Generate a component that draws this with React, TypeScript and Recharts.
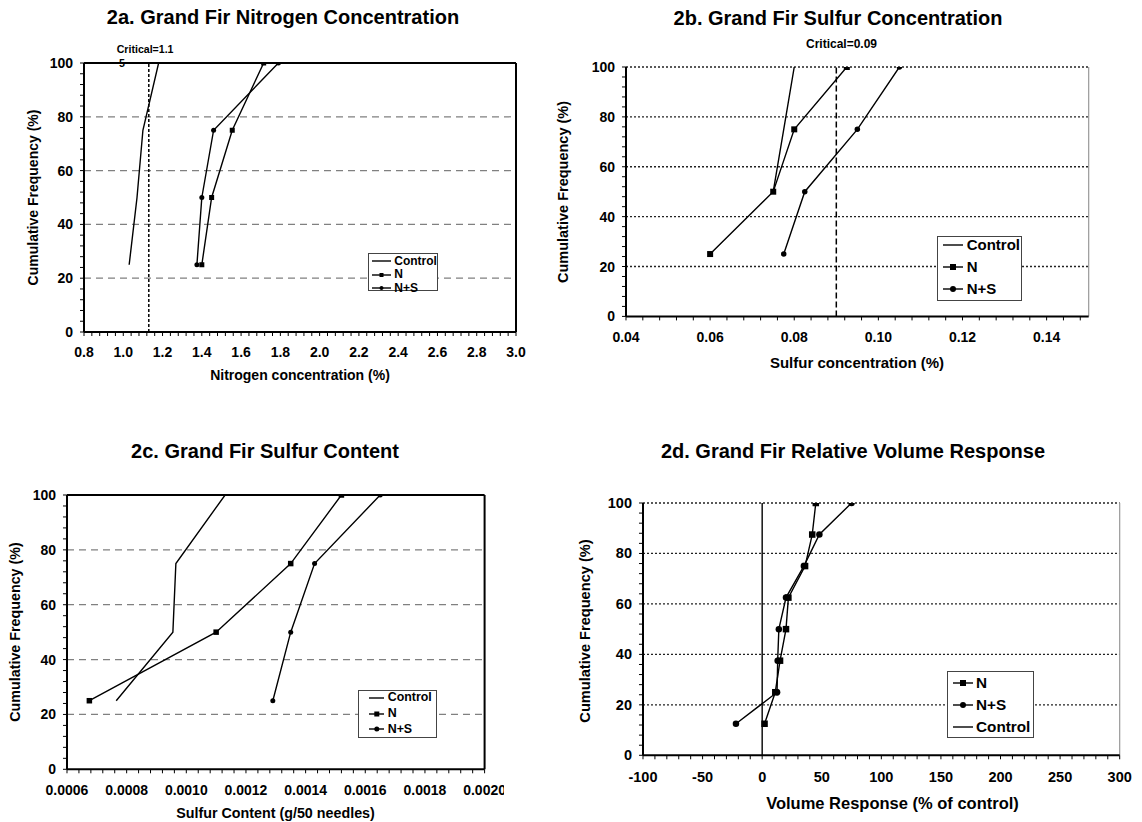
import React from 'react';
import { LineChart, Line, XAxis, YAxis, ReferenceLine, Legend } from 'recharts';

const FONT = '"Liberation Sans", Arial, Helvetica, sans-serif';

// ---------- data ----------
const freq4 = [25, 50, 75, 100];
const freq8 = [12.5, 25, 37.5, 50, 62.5, 75, 87.5, 100];

// 2a Nitrogen concentration (%)
const nitroControl = [1.03, 1.07, 1.1, 1.18];
const nitroN = [1.4, 1.45, 1.555, 1.715];
const nitroNS = [1.375, 1.4, 1.46, 1.79];
const nitroCritical = 1.13;
const nitroTicks = [0.8, 1.0, 1.2, 1.4, 1.6, 1.8, 2.0, 2.2, 2.4, 2.6, 2.8, 3.0];

// 2b Sulfur concentration (%)
const sulfControlFreq = [50, 75, 100];
const sulfControl = [0.075, 0.0775, 0.08];
const sulfN = [0.06, 0.075, 0.08, 0.0925];
const sulfNS = [0.0775, 0.0825, 0.095, 0.105];
const sulfCritical = 0.09;
const sulfTicks = [0.04, 0.06, 0.08, 0.1, 0.12, 0.14];

// 2c Sulfur content (g/50 needles)
const contControl = [0.000765, 0.000955, 0.000965, 0.00113];
const contN = [0.000675, 0.0011, 0.00135, 0.00152];
const contNS = [0.00129, 0.00135, 0.00143, 0.00165];
const contTicks = [0.0006, 0.0008, 0.001, 0.0012, 0.0014, 0.0016, 0.0018, 0.002];

// 2d Relative volume response (% of control)
const volN = [2, 11, 15, 20, 22, 36, 42, 45];
const volNS = [-22, 12.5, 13, 14, 20, 35, 48, 75];
const volControl = [0, 0];
const volControlFreq = [0, 100];
const volTicks = [-100, -50, 0, 50, 100, 150, 200, 250, 300];

const freqTicks = [0, 20, 40, 60, 80, 100];

// ---------- helpers ----------
const zip = (xs: number[], ys: number[]) => xs.map((x, i) => ({ x, y: ys[i] }));

function subdivide(majors: number[], parts: number, end: number) {
  const step = (majors[1] - majors[0]) / parts;
  const start = majors[0];
  const n = Math.floor((end - start) / step + 1e-6);
  const out: number[] = [];
  for (let i = 0; i <= n; i++) out.push(+(start + i * step).toPrecision(12));
  return out;
}

const isMajor = (v: number, majors: number[]) => {
  const tol = Math.abs(majors[1] - majors[0]) * 1e-4;
  return majors.some((m) => Math.abs(m - v) < tol);
};

type LegItem = { label: string; kind: 'line' | 'square' | 'circle' };

function LegendBox(props: {
  items: LegItem[]; w: number; h: number; firstY: number; gap: number;
  sampleX: number; sampleW: number; textX: number; fs: number; m: number;
}) {
  const { items, w, h, firstY, gap, sampleX, sampleW, textX, fs, m } = props;
  return (
    <div style={{ position: 'relative', width: w, height: h, border: '1px solid #444', background: '#fff', boxSizing: 'border-box', fontFamily: FONT, fontWeight: 'bold', fontSize: fs, color: '#000' }}>
      {items.map((it, i) => {
        const cy = firstY + i * gap;
        return (
          <React.Fragment key={i}>
            <svg style={{ position: 'absolute', left: sampleX, top: cy - 5 }} width={sampleW} height={10}>
              <line x1={0} y1={5} x2={sampleW} y2={5} stroke="#000" strokeWidth={1.4} />
              {it.kind === 'square' && <rect x={sampleW / 2 - m / 2} y={5 - m / 2} width={m} height={m} fill="#000" />}
              {it.kind === 'circle' && <circle cx={sampleW / 2} cy={5} r={m / 2} fill="#000" />}
            </svg>
            <div style={{ position: 'absolute', left: textX, top: cy - fs * 0.6, lineHeight: `${fs * 1.2}px`, whiteSpace: 'nowrap' }}>{it.label}</div>
          </React.Fragment>
        );
      })}
    </div>
  );
}

type Series = { name: string; data: { x: number; y: number }[]; dot: 'none' | 'square' | 'circle'; size: number };

type PanelProps = {
  plot: { x: number; y: number; w: number; h: number };
  xDomain: [number, number];
  xMajors: number[];
  xParts: number;
  xDigits: number;
  xDy: number;
  tickFs: number;
  grid: 'dashed' | 'dotted';
  critical?: { x: number; dash: string };
  series: Series[];
  legend: { box: { x: number; y: number }; props: any };
};

function Panel(p: PanelProps) {
  const L = p.plot.x - 70;
  const T = p.plot.y - 40;
  const W = p.plot.w + 90;
  const H = p.plot.h + 100;
  const xAll = subdivide(p.xMajors, p.xParts, p.xDomain[1]);
  const yAll = subdivide(freqTicks, 5, 100);
  const tickStyle = { fontFamily: FONT, fontWeight: 'bold' as const, fontSize: p.tickFs, fill: '#000' };

  const xTick = (t: any) => {
    const v = t.payload.value;
    if (!isMajor(v, p.xMajors)) return <g />;
    return <text x={t.x} y={t.y + p.xDy} textAnchor="middle" style={tickStyle}>{v.toFixed(p.xDigits)}</text>;
  };
  const yTick = (t: any) => {
    const v = t.payload.value;
    if (!isMajor(v, freqTicks)) return <g />;
    return <text x={t.x - 5} y={t.y + 5} textAnchor="end" style={tickStyle}>{v}</text>;
  };

  const gridVals = p.grid === 'dashed' ? [20, 40, 60, 80] : [20, 40, 60, 80, 100];

  return (
    <div style={{ position: 'absolute', left: L, top: T }}>
      <LineChart width={W} height={H} margin={{ top: 40, right: 20, bottom: 30, left: 20 }}>
        <XAxis type="number" dataKey="x" domain={p.xDomain} ticks={xAll} interval={0} allowDataOverflow height={30}
          tickSize={4} tickLine={{ stroke: '#000', strokeWidth: 1 }} axisLine={{ stroke: '#000', strokeWidth: 2 }} tick={xTick} />
        <YAxis type="number" domain={[0, 100]} ticks={yAll} interval={0} allowDataOverflow width={50}
          tickSize={4} tickLine={{ stroke: '#000', strokeWidth: 1 }} axisLine={{ stroke: '#000', strokeWidth: 2 }} tick={yTick} />
        {gridVals.map((g) => (
          <ReferenceLine key={'g' + g} y={g} stroke={p.grid === 'dashed' ? '#808080' : '#222'} strokeWidth={p.grid === 'dashed' ? 1.2 : 1.3}
            strokeDasharray={p.grid === 'dashed' ? '7 5' : '2 2'} />
        ))}
        {p.grid === 'dashed' ? (
          <ReferenceLine y={100} stroke="#000" strokeWidth={2} />
        ) : null}
        <ReferenceLine x={p.xDomain[1]} stroke={p.grid === 'dashed' ? '#000' : '#999'} strokeWidth={p.grid === 'dashed' ? 2 : 1.2} />
        {p.critical ? (
          <ReferenceLine x={p.critical.x} stroke="#000" strokeWidth={1.5} strokeDasharray={p.critical.dash} />
        ) : null}
        {p.series.map((s) => (
          <Line key={s.name} name={s.name} data={s.data} dataKey="y" type="linear" stroke="#000" strokeWidth={1.4}
            isAnimationActive={false} legendType="none"
            dot={s.dot === 'none' ? false : (d: any) =>
              s.dot === 'square'
                ? <rect key={`${s.name}-${d.index}`} x={d.cx - s.size / 2} y={d.cy - s.size / 2} width={s.size} height={s.size} fill="#000" />
                : <circle key={`${s.name}-${d.index}`} cx={d.cx} cy={d.cy} r={s.size / 2} fill="#000" />}
            activeDot={false} />
        ))}
        <Legend layout="vertical" align="center" verticalAlign="middle"
          wrapperStyle={{ left: p.legend.box.x - L, top: p.legend.box.y - T, width: p.legend.props.w, height: p.legend.props.h }}
          content={() => <LegendBox {...p.legend.props} />} />
      </LineChart>
    </div>
  );
}

const std: LegItem[] = [
  { label: 'Control', kind: 'line' },
  { label: 'N', kind: 'square' },
  { label: 'N+S', kind: 'circle' },
];
const volItems: LegItem[] = [
  { label: 'N', kind: 'square' },
  { label: 'N+S', kind: 'circle' },
  { label: 'Control', kind: 'line' },
];

function Texts() {
  const t = (x: number, y: number, s: string, fs: number, anchor: 'start' | 'middle' = 'middle') => (
    <text x={x} y={y} textAnchor={anchor} fontFamily={FONT} fontWeight="bold" fontSize={fs} fill="#000">{s}</text>
  );
  const v = (cx: number, cy: number, s: string, fs: number) => (
    <text x={cx + fs * 0.36} y={cy} transform={`rotate(-90 ${cx + fs * 0.36} ${cy})`} textAnchor="middle" fontFamily={FONT} fontWeight="bold" fontSize={fs} fill="#000">{s}</text>
  );
  return (
    <svg width={1142} height={822} style={{ position: 'absolute', left: 0, top: 0 }}>
      {t(283, 23.5, '2a. Grand Fir Nitrogen Concentration', 20)}
      {t(838, 25, '2b. Grand Fir Sulfur Concentration', 20)}
      {t(265, 458, '2c. Grand Fir Sulfur Content', 20)}
      {t(853, 458, '2d. Grand Fir Relative Volume Response', 20)}
      {t(300, 380, 'Nitrogen concentration (%)', 14)}
      {t(857, 368, 'Sulfur concentration (%)', 15)}
      {t(275.5, 818, 'Sulfur Content (g/50 needles)', 14.3)}
      {t(892.5, 809, 'Volume Response (% of control)', 16.5)}
      {v(33, 197.5, 'Cumulative Frequency (%)', 14)}
      {v(563, 192, 'Cumulative Frequency (%)', 14.5)}
      {v(15, 632, 'Cumulative Frequency (%)', 14.3)}
      {v(585, 631, 'Cumulative Frequency (%)', 14.6)}
      {t(116.7, 53.3, 'Critical=1.1', 10.6, 'start')}
      {t(119, 67.3, '5', 10.6, 'start')}
      {t(806, 48.3, 'Critical=0.09', 12, 'start')}
    </svg>
  );
}

export default function App() {
  return (
    <div style={{ position: 'absolute', left: 0, top: 0, width: 1142, height: 822, background: '#fff', overflow: 'hidden' }}>
      <Texts />
      <Panel
        plot={{ x: 84, y: 63, w: 432, h: 269 }}
        xDomain={[0.8, 3.0]} xMajors={nitroTicks} xParts={5} xDigits={1} xDy={19} tickFs={14}
        grid="dashed" critical={{ x: nitroCritical, dash: '3 2' }}
        series={[
          { name: 'Control', data: zip(nitroControl, freq4), dot: 'none', size: 0 },
          { name: 'N', data: zip(nitroN, freq4), dot: 'square', size: 5 },
          { name: 'N+S', data: zip(nitroNS, freq4), dot: 'circle', size: 5 },
        ]}
        legend={{ box: { x: 368, y: 253 }, props: { items: std, w: 70, h: 38, firstY: 7, gap: 13.6, sampleX: 2.7, sampleW: 19, textX: 25.3, fs: 12, m: 4 } }}
      />
      <Panel
        plot={{ x: 626, y: 67.3, w: 462.7, h: 249.4 }}
        xDomain={[0.04, 0.15]} xMajors={sulfTicks} xParts={5} xDigits={2} xDy={20} tickFs={14}
        grid="dotted" critical={{ x: sulfCritical, dash: '6 3' }}
        series={[
          { name: 'Control', data: zip(sulfControl, sulfControlFreq), dot: 'none', size: 0 },
          { name: 'N', data: zip(sulfN, freq4), dot: 'square', size: 6 },
          { name: 'N+S', data: zip(sulfNS, freq4), dot: 'circle', size: 5.5 },
        ]}
        legend={{ box: { x: 936.7, y: 235.7 }, props: { items: std, w: 85, h: 65.3, firstY: 8.3, gap: 22, sampleX: 5, sampleW: 20, textX: 29, fs: 15, m: 6 } }}
      />
      <Panel
        plot={{ x: 66.7, y: 495, w: 417.6, h: 274.3 }}
        xDomain={[0.0006, 0.002]} xMajors={contTicks} xParts={5} xDigits={4} xDy={19.7} tickFs={14}
        grid="dashed"
        series={[
          { name: 'Control', data: zip(contControl, freq4), dot: 'none', size: 0 },
          { name: 'N', data: zip(contN, freq4), dot: 'square', size: 5.5 },
          { name: 'N+S', data: zip(contNS, freq4), dot: 'circle', size: 5 },
        ]}
        legend={{ box: { x: 358.3, y: 690 }, props: { items: std, w: 79, h: 48.3, firstY: 6.7, gap: 15.8, sampleX: 9.4, sampleW: 15.6, textX: 28.4, fs: 12.4, m: 5 } }}
      />
      <Panel
        plot={{ x: 643.3, y: 502.7, w: 476.7, h: 252.3 }}
        xDomain={[-100, 300]} xMajors={volTicks} xParts={5} xDigits={0} xDy={21} tickFs={14.5}
        grid="dotted"
        series={[
          { name: 'Control', data: zip(volControl, volControlFreq), dot: 'none', size: 0 },
          { name: 'N', data: zip(volN, freq8), dot: 'square', size: 6.5 },
          { name: 'N+S', data: zip(volNS, freq8), dot: 'circle', size: 6.5 },
        ]}
        legend={{ box: { x: 946.7, y: 670.7 }, props: { items: volItems, w: 87.6, h: 67.6, firstY: 11, gap: 22.3, sampleX: 5, sampleW: 20, textX: 28.3, fs: 15.3, m: 6 } }}
      />
    </div>
  );
}
